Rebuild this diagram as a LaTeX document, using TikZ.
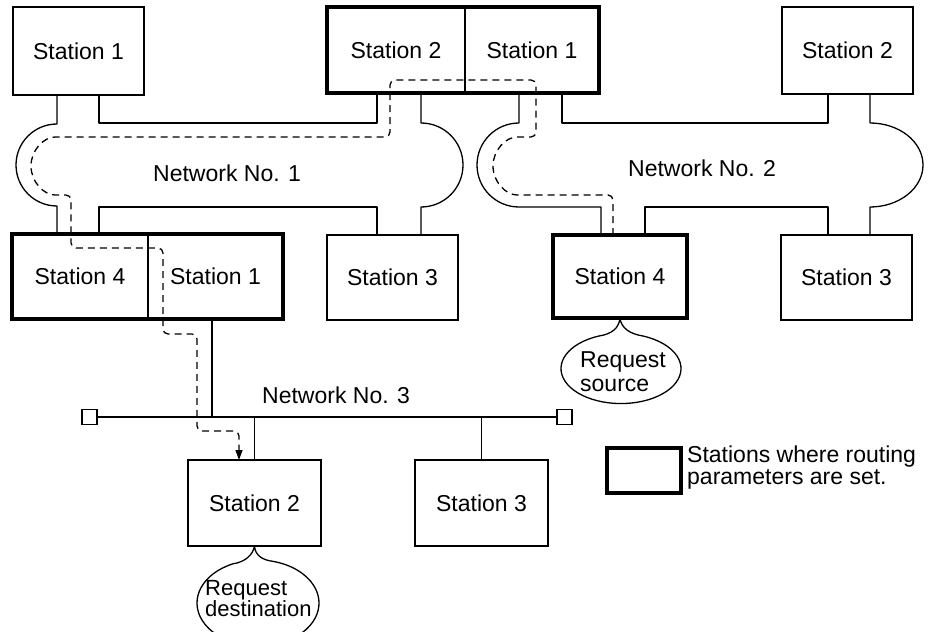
\documentclass[tikz,border=0pt]{standalone}
\usepackage{fontspec}
\setmainfont{Liberation Sans}
\usetikzlibrary{arrows.meta}
\newcommand\labelfont{\fontsize{23}{24}\selectfont}
\newcommand\destfont{\fontsize{22}{21}\selectfont}
\newcommand\keyfont{\fontsize{23}{22}\selectfont}
\begin{document}
\begin{tikzpicture}[x=1pt,y=-1pt]
\tikzset{
  wire/.style={line width=1.3pt, line join=round},
  stationbox/.style={draw, line width=1.3pt, inner sep=0pt, outer sep=0pt, font=\labelfont},
  halfbox/.style={inner sep=0pt, outer sep=0pt, font=\labelfont},
  routerframe/.style={line width=3.2pt},
  route/.style={line width=1.3pt, dash pattern=on 7pt off 5pt, rounded corners=5pt},
  nettext/.style={font=\labelfont, inner sep=0pt, anchor=base west},
  notetext/.style={align=left, inner sep=0pt, anchor=west},
  terminator/.style={draw, line width=1.3pt, minimum size=15pt, inner sep=0pt, outer sep=0pt},
}
\fill[white] (0,0) rectangle (941,631);
\path[use as bounding box, clip] (0,0) rectangle (941,631);

% ---- stations ----
\node[stationbox, minimum width=131pt, minimum height=88pt] (n1s1) at (78.5,51) {Station 1};

\node[halfbox, minimum width=138pt, minimum height=86pt] (gwAL) at (396,50) {Station 2};
\node[halfbox, minimum width=134pt, minimum height=86pt] (gwAR) at (532,50) {Station 1};
\draw[routerframe] (gwAL.north west) rectangle (gwAR.south east);
\draw[wire] (gwAL.north east) -- (gwAL.south east);

\node[stationbox, minimum width=131pt, minimum height=87pt] (n2s2) at (847.5,50.5) {Station 2};

\node[halfbox, minimum width=136pt, minimum height=85pt] (gwBL) at (80,276.5) {Station 4};
\node[halfbox, minimum width=135pt, minimum height=85pt] (gwBR) at (215.5,276.5) {Station 1};
\draw[routerframe] (gwBL.north west) rectangle (gwBR.south east);
\draw[wire] (gwBL.north east) -- (gwBL.south east);

\node[stationbox, minimum width=131pt, minimum height=85pt] (n1s3) at (392.5,277.5) {Station 3};
\node[stationbox, line width=3.2pt, minimum width=134pt, minimum height=83pt] (n2s4) at (620,276.5) {Station 4};
\node[stationbox, minimum width=131pt, minimum height=85pt] (n2s3) at (846.5,277.5) {Station 3};

\node[stationbox, minimum width=133pt, minimum height=86pt] (n3s2) at (254.5,503) {Station 2};
\node[stationbox, minimum width=133pt, minimum height=86pt] (n3s3) at (481.5,503) {Station 3};

% ---- network No. 1 (loop) ----
\draw[wire] (57,0 |- n1s1.south) -- (57,124) arc[start angle=270, end angle=90, radius=41] -- (57,0 |- gwBL.north);
\draw[wire] (99,0 |- n1s1.south) -- (99,123) -- (377,123) -- (377,0 |- gwAL.south);
\draw[wire] (421,0 |- gwAL.south) -- (421,123) arc[start angle=-90, end angle=90, radius=42] -- (421,0 |- n1s3.north);
\draw[wire] (99,0 |- gwBL.north) -- (99,207) -- (377,207) -- (377,0 |- n1s3.north);
\node[nettext] (net1) at (153,182) {Network No. 1};

% ---- network No. 2 (loop) ----
\draw[wire] (519,0 |- gwAR.south) -- (519,123) arc[start angle=270, end angle=90, radius=42] -- (601,207) -- (601,0 |- n2s4.north);
\draw[wire] (562,0 |- gwAR.south) -- (562,123) -- (828,123) -- (828,0 |- n2s2.south);
\draw[wire] (870,0 |- n2s2.south) -- (870,123) arc[start angle=-90, end angle=90, x radius=53, y radius=42] -- (870,0 |- n2s3.north);
\draw[wire] (645,0 |- n2s4.north) -- (645,207) -- (828,207) -- (828,0 |- n2s3.north);
\node[nettext] (net2) at (628,176) {Network No. 2};

% ---- network No. 3 (bus) ----
\node[terminator] (termL) at (89.5,417) {};
\node[terminator] (termR) at (564.5,417) {};
\draw[wire] (termL.east) -- (termR.west);
\draw[wire] (212,0 |- gwBR.south) -- (212,0 |- termL.east);
\draw[wire] (n3s2.north |- termL.east) -- (n3s2.north);
\draw[wire] (n3s3.north |- termL.east) -- (n3s3.north);
\node[nettext] (net3) at (262,403) {Network No. 3};

% ---- route of the request ----
\draw[route, -{Triangle[length=10pt, width=7pt]}]
  ([xshift=-7pt]n2s4.north) -- (613,195) -- (522,195)
  arc[start angle=90, end angle=270, radius=29]
  -- (536,137) -- (536,80) -- (390,80) -- (390,137) -- (60,137)
  arc[start angle=270, end angle=90, radius=29]
  -- (71,195) -- (71,248) -- (163,248) -- (163,334) -- (197,334)
  -- (197,431) -- (239,431) -- ([xshift=-15.5pt]n3s2.north);

% ---- callouts ----
\node[notetext, font=\labelfont] (srcnote) at (580,372) {Request\\source};
\draw[wire] (n2s4.south) .. controls (619,328) and (612,334) .. (599,336)
  arc[start angle=248.5, end angle=-68.5, x radius=60, y radius=35]
  .. controls (630,334) and (621,328) .. (n2s4.south);

\node[notetext, font=\destfont] (dstnote) at (205,599) {Request\\destination};
\draw[wire] (n3s2.south) .. controls (253,555) and (245,562) .. (233,563.8)
  arc[start angle=245.8, end angle=-75.8, x radius=61, y radius=43]
  .. controls (262,560) and (255,555) .. (n3s2.south);

% ---- key ----
\node[draw, line width=3.2pt, minimum width=74pt, minimum height=45pt, inner sep=0pt, outer sep=0pt] (keybox) at (644,470.5) {};
\node[notetext, font=\keyfont] (keytext) at (687,468) {Stations where routing\\parameters are set.};
\end{tikzpicture}
\end{document}
